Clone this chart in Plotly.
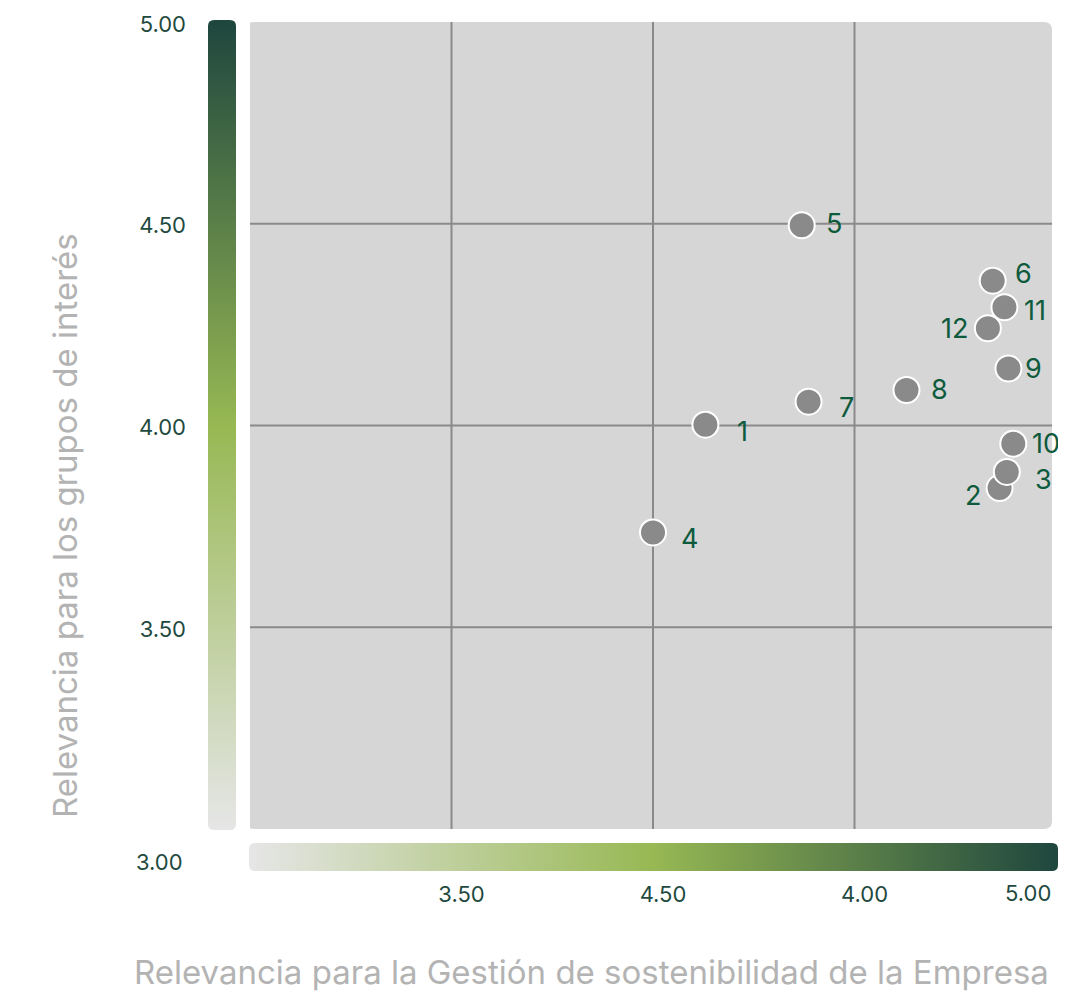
import plotly.graph_objects as go

# ---------------- data ----------------
labels = ["1", "2", "3", "4", "5", "6", "7", "8", "9", "10", "11", "12"]
x_vals = [4.130, 4.860, 4.878, 4.000, 4.369, 4.843, 4.386, 4.629, 4.882, 4.894, 4.872, 4.831]
y_vals = [4.002, 3.845, 3.885, 3.735, 4.496, 4.359, 4.059, 4.088, 4.141, 3.955, 4.293, 4.241]

x_tickvals = [3.5, 4.0, 4.5]
x_ticktext = ["3.50", "4.50", "4.00"]
y_tickvals = [3.5, 4.0, 4.5, 5.0]
y_ticktext = ["3.50", "4.00", "4.50", "5.00"]
grid_vals = [3.5, 4.0, 4.5]
scale_min, scale_max = 3.0, 5.0
scale_min_text = "3.00"
scale_max_text = "5.00"

x_title = "Relevancia para la Gestión de sostenibilidad de la Empresa"
y_title = "Relevancia para los grupos de interés"

# label offsets in pixels (dx right, dy up)
label_offsets = {
    "1": (37, -7), "2": (-27, -7), "3": (37, -8), "4": (36, -6),
    "5": (32, 2), "6": (31, 7), "7": (38, -6), "8": (33, 0),
    "9": (25, 0), "10": (33, 0), "11": (31, -3), "12": (-33, 0),
}

# ---------------- styling ----------------
W, H = 1066, 993
OFF = 8  # page body margin compensation
FONT = "Inter"
TICK_COLOR = "#1f4a40"
LABEL_COLOR = "#0d5a3c"
TITLE_COLOR = "#b3b3b3"
BG = "#d6d6d6"
GRID = "#8a8a8a"
cscale = [[0.0, "#e6e6e6"], [0.5, "#97b853"], [1.0, "#1e463e"]]

def px_x(p):
    return (p - OFF) / W

def px_y(p):
    return (H - (p - OFF)) / H

# main plot region in pixels (page coordinates)
PX0, PX1, PY0, PY1 = 250, 1056, 22, 829
# vertical bar
VX0, VX1, VY0, VY1 = 208, 236, 20, 830
# horizontal bar
HX0, HX1, HY0, HY1 = 249, 1058, 843, 871

fig = go.Figure()

# vertical gradient bar
fig.add_trace(go.Heatmap(
    x=[0, 1], y=[scale_min, scale_max],
    z=[[scale_min, scale_min], [scale_max, scale_max]],
    zmin=scale_min, zmax=scale_max, colorscale=cscale, zsmooth="best",
    showscale=False, hoverinfo="skip", xaxis="x2", yaxis="y2",
))
# horizontal gradient bar
fig.add_trace(go.Heatmap(
    x=[scale_min, scale_max], y=[0, 1],
    z=[[scale_min, scale_max], [scale_min, scale_max]],
    zmin=scale_min, zmax=scale_max, colorscale=cscale, zsmooth="best",
    showscale=False, hoverinfo="skip", xaxis="x3", yaxis="y3",
))

# points
fig.add_trace(go.Scatter(
    x=x_vals, y=y_vals, mode="markers",
    marker=dict(size=26, color="#8a8a8a", line=dict(color="white", width=2)),
    hoverinfo="text", text=labels, xaxis="x", yaxis="y", showlegend=False,
))

shapes = []
# rounded background
x0, x1, y0, y1 = scale_min - 0.01, scale_max - 0.01, scale_min, scale_max
r = 0.02
path = (f"M {x0+r},{y0} L {x1-r},{y0} Q {x1},{y0} {x1},{y0+r} "
        f"L {x1},{y1-r} Q {x1},{y1} {x1-r},{y1} L {x0+r},{y1} "
        f"Q {x0},{y1} {x0},{y1-r} L {x0},{y0+r} Q {x0},{y0} {x0+r},{y0} Z")
shapes.append(dict(type="path", path=path, xref="x", yref="y",
                   fillcolor=BG, line=dict(width=0), layer="below"))
for g in grid_vals:
    shapes.append(dict(type="line", xref="x", yref="y", x0=g, x1=g, y0=y0, y1=y1,
                       line=dict(color=GRID, width=2), layer="below"))
    shapes.append(dict(type="line", xref="x", yref="y", x0=x0, x1=x1, y0=g, y1=g,
                       line=dict(color=GRID, width=2), layer="below"))

# rounded-corner masks for bars
def corner_masks(bx0, bx1, by0, by1, rad=6):
    rx, ry = rad / W, rad / H
    X0, X1 = px_x(bx0), px_x(bx1)
    YT, YB = px_y(by0), px_y(by1)
    out = []
    corners = [
        (X0, YT, rx, -ry), (X1, YT, -rx, -ry),
        (X0, YB, rx, ry), (X1, YB, -rx, ry),
    ]
    for cx, cy, dx, dy in corners:
        p = f"M {cx},{cy} L {cx+dx},{cy} Q {cx},{cy} {cx},{cy+dy} Z"
        out.append(dict(type="path", path=p, xref="paper", yref="paper",
                        fillcolor="white", line=dict(width=0), layer="above"))
    return out

shapes += corner_masks(VX0, VX1, VY0, VY1)
shapes += corner_masks(HX0, HX1, HY0, HY1)

annotations = []
for lab, xv, yv in zip(labels, x_vals, y_vals):
    dx, dy = label_offsets[lab]
    annotations.append(dict(
        x=xv, y=yv, xref="x", yref="y", text=lab, showarrow=False,
        xanchor="center", yanchor="middle",
        xshift=dx, yshift=dy, font=dict(family=FONT, size=27, color=LABEL_COLOR),
    ))
annotations.append(dict(
    x=px_x(185), y=scale_min, xref="paper", yref="y", text=scale_min_text,
    showarrow=False, xanchor="right", yanchor="middle", yshift=-33,
    font=dict(family=FONT, size=22, color=TICK_COLOR),
))
# x-axis end label, kept inside the page
annotations.append(dict(
    x=scale_max, y=px_y(893), xref="x", yref="paper", text=scale_max_text,
    showarrow=False, xanchor="right", yanchor="middle", xshift=-3,
    font=dict(family=FONT, size=22, color=TICK_COLOR),
))
annotations.append(dict(
    x=px_x(591), y=px_y(972), xref="paper", yref="paper", text=x_title,
    showarrow=False, xanchor="center", yanchor="middle",
    font=dict(family=FONT, size=33, color=TITLE_COLOR),
))
annotations.append(dict(
    x=px_x(65), y=px_y(526), xref="paper", yref="paper", text=y_title,
    showarrow=False, textangle=-90, xanchor="center", yanchor="middle",
    font=dict(family=FONT, size=33, color=TITLE_COLOR),
))

fig.update_layout(
    width=W, height=H,
    margin=dict(l=0, r=0, t=0, b=0),
    paper_bgcolor="white", plot_bgcolor="rgba(0,0,0,0)",
    showlegend=False,
    font=dict(family=FONT),
    xaxis=dict(domain=[px_x(PX0), px_x(PX1)], range=[scale_min, scale_max],
               showgrid=False, zeroline=False, showline=False, automargin=False,
               tickvals=x_tickvals, ticktext=x_ticktext, ticks="",
               ticklabelstandoff=50, ticklabelshift=10, ticklabeloverflow="allow",
               tickfont=dict(family=FONT, size=22, color=TICK_COLOR), anchor="y"),
    yaxis=dict(domain=[px_y(PY1), px_y(PY0)], range=[scale_min, scale_max],
               showgrid=False, zeroline=False, showline=False, automargin=False,
               tickvals=y_tickvals, ticktext=y_ticktext, ticks="",
               ticklabelstandoff=63, ticklabelshift=2, ticklabeloverflow="allow",
               tickfont=dict(family=FONT, size=22, color=TICK_COLOR), anchor="x"),
    xaxis2=dict(domain=[px_x(VX0), px_x(VX1)], range=[0, 1], visible=False,
                automargin=False, anchor="y2"),
    yaxis2=dict(domain=[px_y(VY1), px_y(VY0)], range=[scale_min, scale_max], visible=False,
                automargin=False, anchor="x2"),
    xaxis3=dict(domain=[px_x(HX0), px_x(HX1)], range=[scale_min, scale_max], visible=False,
                automargin=False, anchor="y3"),
    yaxis3=dict(domain=[px_y(HY1), px_y(HY0)], range=[0, 1], visible=False,
                automargin=False, anchor="x3"),
    shapes=shapes,
    annotations=annotations,
)

fig.write_html("out.html")
